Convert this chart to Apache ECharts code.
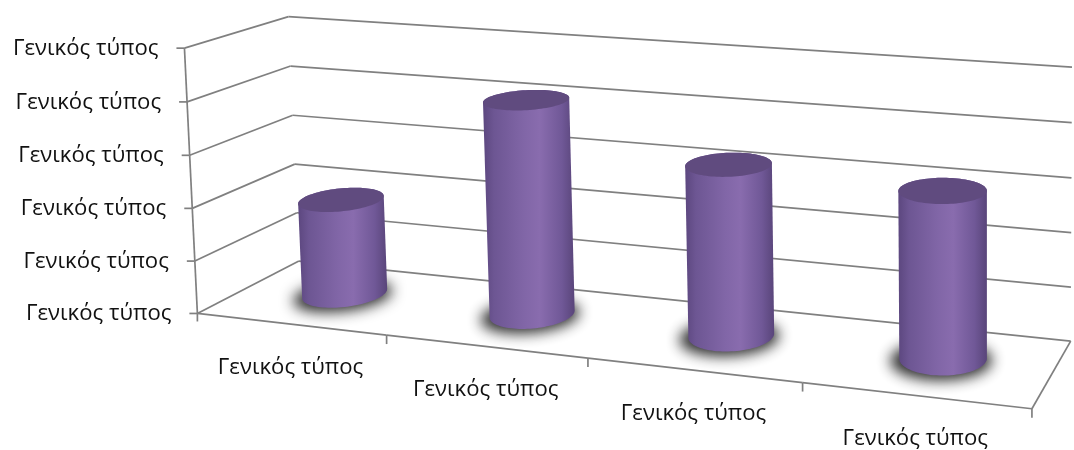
<!DOCTYPE html>
<html>
<head>
<meta charset="utf-8">
<script src="https://cdn.jsdelivr.net/npm/echarts@6/dist/echarts.min.js"></script>
<style>
  html, body { margin: 0; padding: 0; background: #fff; }
  #chart { width: 1074px; height: 450px; }
</style>
</head>
<body>
<div id="chart"></div>
<script>
// ---- data ----
const CATEGORIES = ['Γενικός τύπος', 'Γενικός τύπος', 'Γενικός τύπος', 'Γενικός τύπος'];
const VALUES = [1.84, 4.05, 3.15, 3.0];
const VALUE_TICKS = [0, 1, 2, 3, 4, 5];
const VALUE_LABELS = ['Γενικός τύπος', 'Γενικός τύπος', 'Γενικός τύπος', 'Γενικός τύπος', 'Γενικός τύπος', 'Γενικός τύπος'];

// ---- 3D layout ----
// Unit plot box: X = category direction, Y = value, Z = depth (0 front, 1 back).
// The perspective camera is fitted to where the box edges sit on the page.
const BOX_ANCHORS = [
  { at: [0, 0, 0], px: [196, 313] },
  { at: [0.25, 0, 0], px: [387, 334] },
  { at: [0.5, 0, 0], px: [588, 358] },
  { at: [0.75, 0, 0], px: [802, 383] },
  { at: [1, 0, 0], px: [1033, 408] },
  { at: [0, 1, 0], px: [185, 50] },
  { at: [0, 0, 1], px: [300, 262] },
  { at: [0, 1, 1], px: [288, 15] },
  { at: [1, 0, 1], px: [1070, 342] },
  { at: [1, 1, 1], px: [1072, 67] }
];
const CYL_WIDTH = 0.385;       // cylinder diameter as share of a category band
const DEPTH_ASPECT = 5.3;      // plot width / plot depth
const CYL_DEPTH = 0.55;        // depth position of the cylinder axes
const FONT = '21px "Open Sans"';
const TEXT_STRETCH = 1.055;
const TEXT_COLOR = '#111';
const LINE_COLOR = '#808080';

function fitCamera(pairs) {
  const rows = [], rhs = [];
  pairs.forEach(({ at: [X, Y, Z], px: [u, v] }) => {
    rows.push([X, Y, Z, 1, 0, 0, 0, 0, -u * X, -u * Y, -u * Z]); rhs.push(u);
    rows.push([0, 0, 0, 0, X, Y, Z, 1, -v * X, -v * Y, -v * Z]); rhs.push(v);
  });
  const n = 11, M = [];
  for (let i = 0; i < n; i++) {
    M.push(new Array(n + 1).fill(0));
    for (let j = 0; j < n; j++) {
      let s = 0;
      for (let k = 0; k < rows.length; k++) s += rows[k][i] * rows[k][j];
      M[i][j] = s;
    }
    let s = 0;
    for (let k = 0; k < rows.length; k++) s += rows[k][i] * rhs[k];
    M[i][n] = s;
  }
  for (let c = 0; c < n; c++) {
    let piv = c;
    for (let r = c + 1; r < n; r++) if (Math.abs(M[r][c]) > Math.abs(M[piv][c])) piv = r;
    [M[c], M[piv]] = [M[piv], M[c]];
    for (let r = 0; r < n; r++) {
      if (r === c) continue;
      const f = M[r][c] / M[c][c];
      for (let k = c; k <= n; k++) M[r][k] -= f * M[c][k];
    }
  }
  return M.map((row, i) => row[n] / row[i]);
}
const P = fitCamera(BOX_ANCHORS);
function proj(X, Y, Z) {
  const w = P[8] * X + P[9] * Y + P[10] * Z + 1;
  return [(P[0] * X + P[1] * Y + P[2] * Z + P[3]) / w, (P[4] * X + P[5] * Y + P[6] * Z + P[7]) / w];
}

function hull(pts) {
  const p = pts.slice().sort((a, b) => a[0] - b[0] || a[1] - b[1]);
  const cross = (o, a, b) => (a[0] - o[0]) * (b[1] - o[1]) - (a[1] - o[1]) * (b[0] - o[0]);
  const lower = [], upper = [];
  for (const q of p) {
    while (lower.length >= 2 && cross(lower[lower.length - 2], lower[lower.length - 1], q) <= 0) lower.pop();
    lower.push(q);
  }
  for (let i = p.length - 1; i >= 0; i--) {
    const q = p[i];
    while (upper.length >= 2 && cross(upper[upper.length - 2], upper[upper.length - 1], q) <= 0) upper.pop();
    upper.push(q);
  }
  upper.pop(); lower.pop();
  return lower.concat(upper);
}

const line = (a, b) => ({
  type: 'line', silent: true,
  shape: { x1: a[0], y1: a[1], x2: b[0], y2: b[1] },
  style: { stroke: LINE_COLOR, lineWidth: 1.7 }
});
const text = (str, x, y, align) => ({
  type: 'text', silent: true, x, y, scaleX: TEXT_STRETCH,
  style: { text: str, x: 0, y: 0, align, verticalAlign: 'middle', font: FONT, fill: TEXT_COLOR }
});

// value axis: wall gridlines, front-left edge, ticks and labels
function renderValueGrid(params, api) {
  const cs = params.coordSys;
  const unitY = v => (cs.y + cs.height - api.coord([0, v])[1]) / cs.height;
  const idx = params.dataIndex;
  const Y = unitY(api.value(1));
  const front = proj(0, Y, 0), back = proj(0, Y, 1), right = proj(1, Y, 1);
  const kids = [line(front, back), line(back, right),
    line(front, [front[0] - 8, front[1]]),
    text(VALUE_LABELS[idx], front[0] - 26, front[1] + 1, 'right')];
  if (idx < VALUE_TICKS.length - 1) kids.push(line(front, proj(0, unitY(VALUE_TICKS[idx + 1]), 0)));
  return { type: 'group', children: kids };
}

// category axis: front floor edge, ticks, labels, right floor edge
function renderCategoryAxis(params, api) {
  const cs = params.coordSys;
  const i = api.value(0);
  const c = api.coord([i, 0]);
  const band = api.size([1, 0])[0];
  const x0 = (c[0] - band / 2 - cs.x) / cs.width;
  const x1 = (c[0] + band / 2 - cs.x) / cs.width;
  const xc = (c[0] - cs.x) / cs.width;
  const a = proj(x0, 0, 0), b = proj(x1, 0, 0), m = proj(xc, 0, 0);
  const kids = [line(a, b), line(b, [b[0], b[1] + 9]), text(CATEGORIES[i], m[0], m[1] + 44, 'center')];
  if (params.dataIndex === 0) kids.push(line(a, [a[0], a[1] + 8]));
  if (params.dataIndex === CATEGORIES.length - 1) kids.push(line(b, proj(x1, 0, 1)));
  return { type: 'group', children: kids };
}

// cylinders with a soft contact shadow on the floor
function renderCylinder(params, api) {
  const cs = params.coordSys;
  const i = api.value(0), v = api.value(1);
  const base = api.coord([i, 0]), top = api.coord([i, v]);
  const band = api.size([1, 0])[0];
  const cx = (base[0] - cs.x) / cs.width;
  const yTop = (cs.y + cs.height - top[1]) / cs.height;
  const rx = band / cs.width * CYL_WIDTH / 2;
  const rz = rx * DEPTH_ASPECT;
  const ring = (Y, k) => {
    const pts = [];
    for (let s = 0; s < 96; s++) {
      const t = s / 96 * Math.PI * 2;
      pts.push(proj(cx + k * rx * Math.cos(t), Y, CYL_DEPTH + k * rz * Math.sin(t)));
    }
    return pts;
  };
  const topRing = ring(yTop, 1), baseRing = ring(0, 1), shadowRing = ring(0, 1.16);
  const OFF = 4000;
  return {
    type: 'group',
    children: [
      {
        type: 'polygon', silent: true,
        shape: { points: shadowRing.map(p => [p[0] - OFF, p[1]]) },
        style: { fill: '#000', shadowBlur: 14, shadowColor: 'rgba(20,20,20,0.9)', shadowOffsetX: OFF - 2, shadowOffsetY: 2 }
      },
      {
        type: 'polygon', silent: true,
        shape: { points: hull(topRing.concat(baseRing)) },
        style: {
          fill: {
            type: 'linear', x: 0, y: 0, x2: 1, y2: 0,
            colorStops: [
              { offset: 0, color: '#5c477f' },
              { offset: 0.12, color: '#6d5693' },
              { offset: 0.45, color: '#8166a7' },
              { offset: 0.62, color: '#896cae' },
              { offset: 0.86, color: '#705897' },
              { offset: 1, color: '#59457a' }
            ]
          }
        }
      },
      {
        type: 'polygon', silent: true,
        shape: { points: topRing },
        style: { fill: '#604b7f' }
      }
    ]
  };
}

const chart = echarts.init(document.getElementById('chart'), null, { renderer: 'canvas' });
chart.setOption({
  animation: false,
  backgroundColor: '#ffffff',
  grid: { left: 0, right: 0, top: 0, bottom: 0 },
  xAxis: { type: 'category', data: CATEGORIES, show: false },
  yAxis: { type: 'value', min: 0, max: 5, interval: 1, show: false },
  series: [
    { type: 'custom', name: 'valueGrid', renderItem: renderValueGrid, data: VALUE_TICKS.map(v => [0, v]), z: 1 },
    { type: 'custom', name: 'categoryAxis', renderItem: renderCategoryAxis, data: CATEGORIES.map((c, i) => [i, 0]), z: 1 },
    { type: 'custom', name: 'cylinders', renderItem: renderCylinder, data: VALUES.map((v, i) => [i, v]), z: 2 }
  ]
});
</script>
</body>
</html>
